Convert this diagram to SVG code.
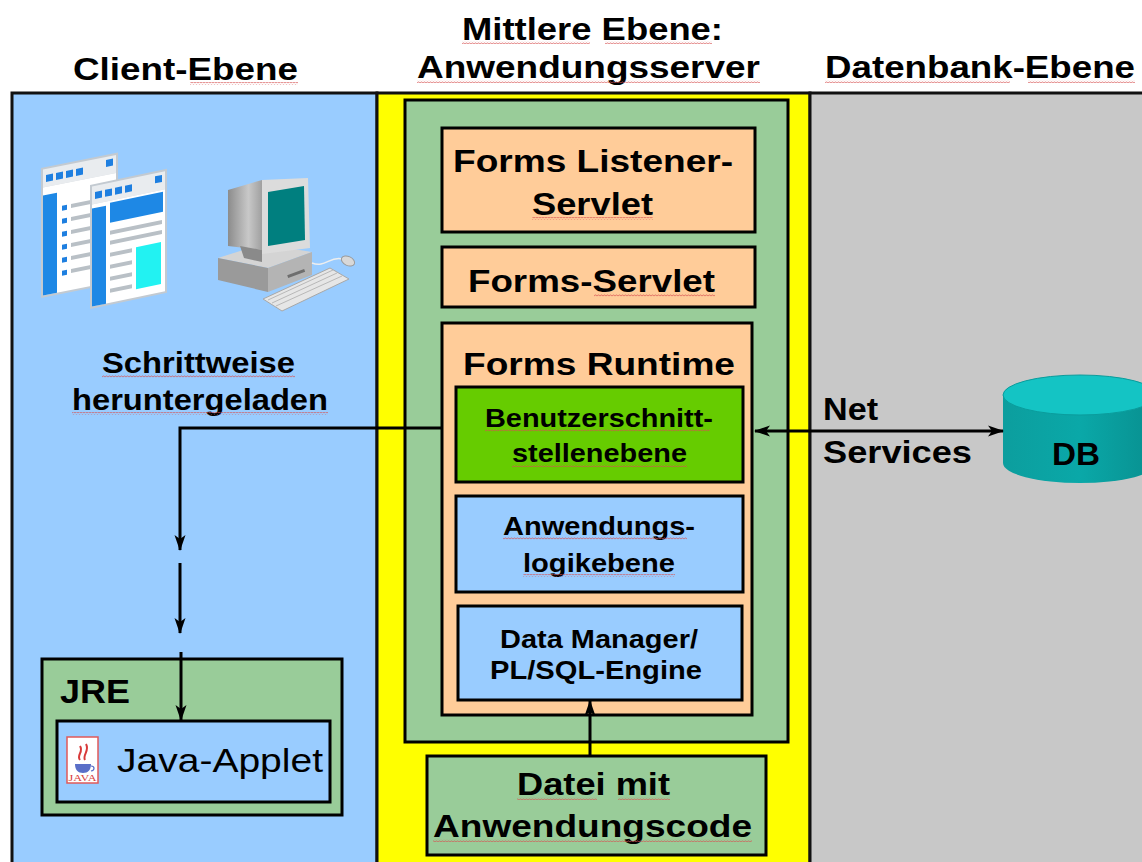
<svg xmlns="http://www.w3.org/2000/svg" width="1142" height="862" viewBox="0 0 1142 862">
  <style>
    .t { font-family: "Liberation Sans", Arial, sans-serif; font-weight: bold; fill: #000; }
    .h { font-size: 32px; }
    .m { font-size: 25px; }
    .r { font-family: "Liberation Sans", Arial, sans-serif; font-weight: normal; fill: #000; }
    .box { stroke: #000; stroke-width: 3; }
    .col { stroke: #111; stroke-width: 3; }
    .wire { fill: none; stroke: #000; stroke-width: 3; }
    .sq { fill: url(#squiggle); }
  </style>
  <defs>
    <pattern id="squiggle" x="0" y="0" width="3" height="3" patternUnits="userSpaceOnUse">
      <path d="M0,2.3 L1.5,0.7 L3,2.3" fill="none" stroke="#d65050" stroke-width="0.8"/>
    </pattern>
    <marker id="arr" viewBox="0 0 16 12" refX="15" refY="6" markerWidth="16" markerHeight="12" markerUnits="userSpaceOnUse" orient="auto-start-reverse">
      <path d="M0,0.5 L16,6 L0,11.5 L4,6 z" fill="#000"/>
    </marker>
    <linearGradient id="dbBody" x1="0" y1="0" x2="1" y2="0">
      <stop offset="0" stop-color="#0C9E9E"/>
      <stop offset="0.5" stop-color="#0AA8A8"/>
      <stop offset="1" stop-color="#088F8F"/>
    </linearGradient>
    <linearGradient id="monGrad" x1="0" y1="0" x2="1" y2="0">
      <stop offset="0" stop-color="#8C8C8C"/>
      <stop offset="0.6" stop-color="#C8C8C8"/>
      <stop offset="1" stop-color="#A0A0A0"/>
    </linearGradient>
  </defs>

  <rect width="1142" height="862" fill="#FFFFFF"/>

  <!-- tier columns -->
  <g id="client-tier">
    <rect class="col" x="12" y="93" width="365" height="800" fill="#99CCFF"/>
  </g>
  <g id="middle-tier">
    <rect class="col" x="377" y="93" width="433" height="800" fill="#FFFF00"/>
  </g>
  <g id="database-tier">
    <rect class="col" x="810" y="93" width="340" height="800" fill="#C8C8C8"/>
  </g>

  <!-- column headings -->
  <g id="headings">
    <text class="t h" x="73" y="80" textLength="225" lengthAdjust="spacingAndGlyphs">Client-Ebene</text>
    <text class="t h" x="462" y="40" textLength="261" lengthAdjust="spacingAndGlyphs">Mittlere Ebene:</text>
    <text class="t h" x="417" y="78" textLength="343" lengthAdjust="spacingAndGlyphs">Anwendungsserver</text>
    <text class="t h" x="825" y="78" textLength="310" lengthAdjust="spacingAndGlyphs">Datenbank-Ebene</text>
  </g>

  <!-- client icons: document pages -->
  <g id="pages-icon">
    <g transform="matrix(1,-0.2,0,1,41,168)">
      <rect x="0" y="0" width="77" height="130" fill="#C3CAD1"/>
      <rect x="2" y="2" width="73" height="18" fill="#E9ECEF"/>
      <rect x="5" y="8" width="7" height="7" fill="#1E7FE0"/>
      <rect x="15" y="8" width="7" height="7" fill="#1E7FE0"/>
      <rect x="25" y="8" width="7" height="7" fill="#1E7FE0"/>
      <rect x="35" y="8" width="7" height="7" fill="#1E7FE0"/>
      <rect x="65" y="5" width="7" height="7" fill="#1E7FE0"/>
      <rect x="2" y="20" width="73" height="108" fill="#FFFFFF"/>
      <rect x="2" y="28" width="14" height="100" fill="#1E88E5"/>
      <g fill="#1E7FE0">
        <rect x="21" y="42" width="5" height="5"/>
        <rect x="21" y="55" width="5" height="5"/>
        <rect x="21" y="68" width="5" height="5"/>
        <rect x="21" y="81" width="5" height="5"/>
        <rect x="21" y="94" width="5" height="5"/>
        <rect x="21" y="107" width="5" height="5"/>
      </g>
      <g fill="#B9C0C6">
        <rect x="30" y="42" width="42" height="4"/>
        <rect x="30" y="55" width="42" height="4"/>
        <rect x="30" y="68" width="42" height="4"/>
        <rect x="30" y="81" width="42" height="4"/>
        <rect x="30" y="94" width="42" height="4"/>
        <rect x="30" y="107" width="42" height="4"/>
      </g>
    </g>
    <g transform="matrix(1,-0.21,0,1,90,185)">
      <rect x="0" y="0" width="77" height="124" fill="#C3CAD1"/>
      <rect x="2" y="2" width="73" height="18" fill="#E9ECEF"/>
      <rect x="5" y="8" width="7" height="7" fill="#1E7FE0"/>
      <rect x="15" y="8" width="7" height="7" fill="#1E7FE0"/>
      <rect x="25" y="8" width="7" height="7" fill="#1E7FE0"/>
      <rect x="35" y="8" width="7" height="7" fill="#1E7FE0"/>
      <rect x="65" y="5" width="7" height="7" fill="#1E7FE0"/>
      <rect x="2" y="20" width="73" height="102" fill="#FFFFFF"/>
      <rect x="2" y="24" width="14" height="98" fill="#1E88E5"/>
      <rect x="20" y="22" width="53" height="20" fill="#1E88E5"/>
      <g fill="#B9C0C6">
        <rect x="20" y="50" width="52" height="4"/>
        <rect x="20" y="60" width="52" height="4"/>
        <rect x="20" y="72" width="22" height="4"/>
        <rect x="20" y="84" width="22" height="4"/>
        <rect x="20" y="96" width="22" height="4"/>
        <rect x="20" y="108" width="22" height="4"/>
      </g>
      <rect x="46" y="72" width="25" height="42" fill="#22F2F2"/>
    </g>
  </g>

  <!-- client icon: desktop computer -->
  <g id="computer-icon">
    <!-- base unit -->
    <polygon points="218,258 262,244 312,252 268,268" fill="#D4D4D4"/>
    <polygon points="218,258 268,268 268,292 218,280" fill="#9A9A9A"/>
    <polygon points="268,268 312,252 312,275 268,292" fill="#B4B4B4"/>
    <rect x="287" y="272" width="18" height="3" fill="#6E6E6E" transform="rotate(-20 296 273)"/>
    <!-- monitor -->
    <polygon points="228,190 262,180 262,250 228,246" fill="url(#monGrad)"/>
    <polygon points="240,246 262,250 262,262 244,258" fill="#8A8A8A"/>
    <polygon points="262,180 308,178 310,248 262,254" fill="#DCDCDC"/>
    <polygon points="268,192 304,186 305,240 268,246" fill="#007F7F"/>
    <!-- keyboard -->
    <polygon points="263,299 330,268 349,279 282,311" fill="#E6E6E6" stroke="#A8A8A8" stroke-width="1"/>
    <g stroke="#B8B8B8" stroke-width="1">
      <line x1="268" y1="300" x2="333" y2="270"/>
      <line x1="272" y1="303" x2="337" y2="273"/>
      <line x1="276" y1="306" x2="342" y2="276"/>
    </g>
    <!-- mouse and cable -->
    <path d="M312,263 C325,268 330,256 342,259" fill="none" stroke="#EEEEEE" stroke-width="1.5"/>
    <ellipse cx="348" cy="261" rx="7" ry="4.5" fill="#D8D8D8" stroke="#9A9A9A" stroke-width="1" transform="rotate(25 348 261)"/>
  </g>

  <g id="download-label">
    <text class="t" font-size="30" x="102" y="373" textLength="193" lengthAdjust="spacingAndGlyphs">Schrittweise</text>
    <text class="t" font-size="30" x="72" y="410" textLength="256" lengthAdjust="spacingAndGlyphs">heruntergeladen</text>
  </g>

  <!-- JRE with applet -->
  <g id="jre">
    <rect class="box" x="42" y="659" width="300" height="156" fill="#99CC99"/>
    <text class="t" font-size="33" x="60" y="703" textLength="70" lengthAdjust="spacingAndGlyphs">JRE</text>
  </g>
  <g id="java-applet">
    <rect class="box" x="57" y="721" width="273" height="81" fill="#99CCFF"/>
    <rect x="67" y="737" width="31" height="46" fill="#FFFFFF" stroke="#E05A5A" stroke-width="1.5"/>
    <path d="M75,764 h16 c0,6 -3,9 -8,9 c-5,0 -8,-3 -8,-9 z" fill="#5A6FC8"/>
    <path d="M91,766 c4,0 4,4 0,5" fill="none" stroke="#5A6FC8" stroke-width="1.2"/>
    <path d="M80,760 c-4,-5 4,-8 0,-14 M85,760 c-3,-5 5,-9 1,-16" fill="none" stroke="#D83A3A" stroke-width="2"/>
    <text x="68.5" y="781" font-family="Liberation Serif, serif" font-size="9" fill="#D83A3A" textLength="28" lengthAdjust="spacingAndGlyphs">JAVA</text>
    <text class="r" font-size="34" x="117" y="772" textLength="206" lengthAdjust="spacingAndGlyphs">Java-Applet</text>
  </g>

  <!-- application server -->
  <g id="app-server">
    <rect class="box" x="405" y="100" width="383" height="642" fill="#99CC99"/>
  </g>
  <g id="listener-servlet">
    <rect class="box" x="442" y="128" width="313" height="104" fill="#FFCC99"/>
    <text class="t h" x="453" y="172" textLength="280" lengthAdjust="spacingAndGlyphs">Forms Listener-</text>
    <text class="t h" x="532" y="215" textLength="121" lengthAdjust="spacingAndGlyphs">Servlet</text>
  </g>
  <g id="forms-servlet">
    <rect class="box" x="442" y="247" width="313" height="60" fill="#FFCC99"/>
    <text class="t h" x="468" y="292" textLength="247" lengthAdjust="spacingAndGlyphs">Forms-Servlet</text>
  </g>
  <g id="forms-runtime">
    <rect class="box" x="442" y="323" width="310" height="392" fill="#FFCC99"/>
    <text class="t h" x="463" y="375" textLength="272" lengthAdjust="spacingAndGlyphs">Forms Runtime</text>
  </g>
  <g id="ui-layer">
    <rect class="box" x="456" y="387" width="287" height="95" fill="#66CC00"/>
    <text class="t m" x="485" y="427" textLength="228" lengthAdjust="spacingAndGlyphs">Benutzerschnitt-</text>
    <text class="t m" x="512" y="462" textLength="175" lengthAdjust="spacingAndGlyphs">stellenebene</text>
  </g>
  <g id="logic-layer">
    <rect class="box" x="456" y="496" width="287" height="96" fill="#99CCFF"/>
    <text class="t m" x="503" y="535" textLength="192" lengthAdjust="spacingAndGlyphs">Anwendungs-</text>
    <text class="t m" x="523" y="572" textLength="152" lengthAdjust="spacingAndGlyphs">logikebene</text>
  </g>
  <g id="data-layer">
    <rect class="box" x="458" y="606" width="284" height="94" fill="#99CCFF"/>
    <text class="t m" x="500" y="648" textLength="198" lengthAdjust="spacingAndGlyphs">Data Manager/</text>
    <text class="t m" x="490" y="679" textLength="212" lengthAdjust="spacingAndGlyphs">PL/SQL-Engine</text>
  </g>
  <g id="code-file">
    <rect class="box" x="427" y="756" width="339" height="99" fill="#99CC99"/>
    <text class="t h" x="517" y="795" textLength="153" lengthAdjust="spacingAndGlyphs">Datei mit</text>
    <text class="t h" x="433" y="837" textLength="319" lengthAdjust="spacingAndGlyphs">Anwendungscode</text>
  </g>

  <!-- database -->
  <g id="db">
    <path d="M1003,395 L1003,463 A77,20 0 0 0 1157,463 L1157,395 Z" fill="url(#dbBody)"/>
    <ellipse cx="1080" cy="395" rx="77" ry="20" fill="#14C4C4" stroke="#0A9C9C" stroke-width="1"/>
    <text class="t h" x="1052" y="465" textLength="48" lengthAdjust="spacingAndGlyphs">DB</text>
  </g>

  <g id="net-services-label">
    <text class="t h" x="823" y="420" textLength="55" lengthAdjust="spacingAndGlyphs">Net</text>
    <text class="t h" x="823" y="463" textLength="149" lengthAdjust="spacingAndGlyphs">Services</text>
  </g>

  <!-- connectors -->
  <g id="connectors">
    <polyline class="wire" points="442,428 180,428 180,550" marker-end="url(#arr)"/>
    <line class="wire" x1="180" y1="563" x2="180" y2="633" marker-end="url(#arr)"/>
    <line class="wire" x1="181" y1="652" x2="181" y2="720" marker-end="url(#arr)"/>
    <line class="wire" x1="755" y1="431" x2="1003" y2="431" marker-start="url(#arr)" marker-end="url(#arr)"/>
    <line class="wire" x1="590" y1="756" x2="590" y2="701" marker-end="url(#arr)"/>
  </g>

  <!-- spell-check underlines -->
  <g id="underlines">
    <rect class="sq" x="190" y="82" width="108" height="3"/>
    <rect class="sq" x="462" y="41" width="128" height="3"/>
    <rect class="sq" x="605" y="41" width="107" height="3"/>
    <rect class="sq" x="417" y="80" width="343" height="3"/>
    <rect class="sq" x="825" y="80" width="185" height="3"/>
    <rect class="sq" x="1028" y="80" width="107" height="3"/>
    <rect class="sq" x="532" y="217" width="121" height="3"/>
    <rect class="sq" x="594" y="294" width="121" height="3"/>
    <rect class="sq" x="102" y="375" width="193" height="3"/>
    <rect class="sq" x="72" y="412" width="256" height="3"/>
    <rect class="sq" x="485" y="429" width="225" height="3"/>
    <rect class="sq" x="512" y="464" width="175" height="3"/>
    <rect class="sq" x="503" y="537" width="184" height="3"/>
    <rect class="sq" x="523" y="574" width="152" height="3"/>
    <rect class="sq" x="517" y="797" width="80" height="3"/>
    <rect class="sq" x="618" y="797" width="52" height="3"/>
    <rect class="sq" x="433" y="839" width="319" height="3"/>
  </g>
</svg>
